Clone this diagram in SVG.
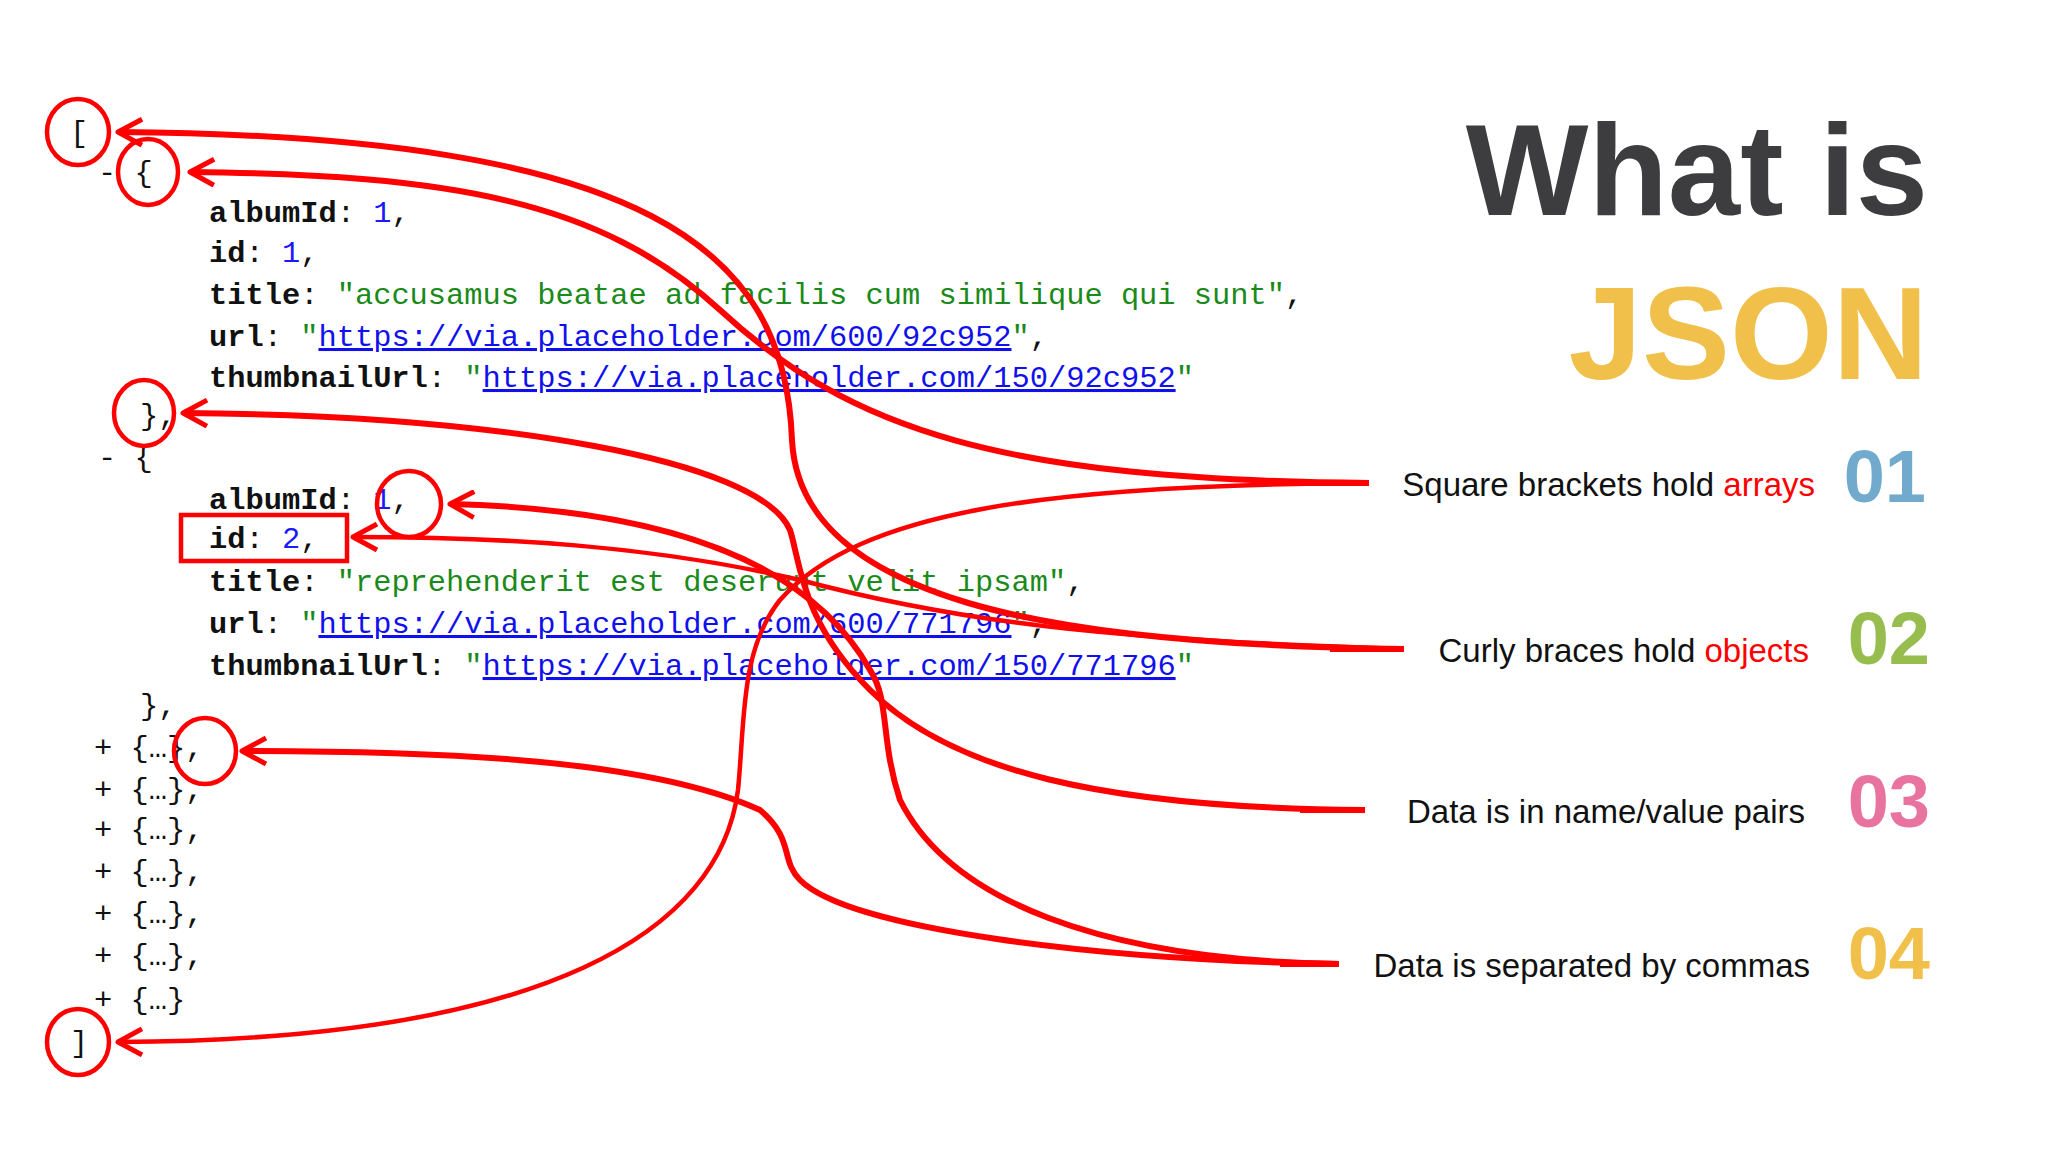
<svg xmlns="http://www.w3.org/2000/svg" width="2048" height="1152" viewBox="0 0 2048 1152">
<defs>
<marker id="ah" viewBox="0 0 30 30" refX="27" refY="15" markerWidth="30" markerHeight="30" orient="auto" markerUnits="userSpaceOnUse">
<path d="M3,2 L27,15 L3,28" fill="none" stroke="#f00" stroke-width="5" stroke-linejoin="round"/>
</marker>
<style>
.c{font-family:"Liberation Mono",monospace;font-size:30.4px;fill:#111}
.k{font-weight:bold}
.n{fill:#1a1aff}
.s{fill:#1a8a1a}
.u{fill:#1010ee;text-decoration:underline}
.ring{fill:none;stroke:#f00;stroke-width:4.5}
.ln{fill:none;stroke:#f00;stroke-width:6;marker-end:url(#ah)}
.thin{stroke-width:4.5}
.lab{font-family:"Liberation Sans",Arial,sans-serif;font-size:33px;fill:#111;text-anchor:end}
.num{font-family:"Liberation Sans",Arial,sans-serif;font-size:74px;font-weight:bold;text-anchor:end}
</style>
</defs>
<rect width="2048" height="1152" fill="#fff"/>
<g id="code" class="c">
<text x="70" y="142">[</text>
<text x="98" y="182">- {</text>
<text x="209" y="222"><tspan class="k">albumId</tspan>: <tspan class="n">1</tspan>,</text>
<text x="209" y="262"><tspan class="k">id</tspan>: <tspan class="n">1</tspan>,</text>
<text x="209" y="304"><tspan class="k">title</tspan>: <tspan class="s">"accusamus beatae ad facilis cum similique qui sunt"</tspan>,</text>
<text x="209" y="346"><tspan class="k">url</tspan>: <tspan class="s">"</tspan><tspan class="u">https://via.placeholder.com/600/92c952</tspan><tspan class="s">"</tspan>,</text>
<text x="209" y="387"><tspan class="k">thumbnailUrl</tspan>: <tspan class="s">"</tspan><tspan class="u">https://via.placeholder.com/150/92c952</tspan><tspan class="s">"</tspan></text>
<text x="140" y="425">},</text>
<text x="98" y="467">- {</text>
<text x="209" y="509"><tspan class="k">albumId</tspan>: <tspan class="n">1</tspan>,</text>
<text x="209" y="548"><tspan class="k">id</tspan>: <tspan class="n">2</tspan>,</text>
<text x="209" y="591"><tspan class="k">title</tspan>: <tspan class="s">"reprehenderit est deserunt velit ipsam"</tspan>,</text>
<text x="209" y="633"><tspan class="k">url</tspan>: <tspan class="s">"</tspan><tspan class="u">https://via.placeholder.com/600/771796</tspan><tspan class="s">"</tspan>,</text>
<text x="209" y="675"><tspan class="k">thumbnailUrl</tspan>: <tspan class="s">"</tspan><tspan class="u">https://via.placeholder.com/150/771796</tspan><tspan class="s">"</tspan></text>
<text x="140" y="715">},</text>
<text x="94" y="757">+ {…},</text>
<text x="94" y="799">+ {…},</text>
<text x="94" y="839">+ {…},</text>
<text x="94" y="881">+ {…},</text>
<text x="94" y="923">+ {…},</text>
<text x="94" y="965">+ {…},</text>
<text x="94" y="1009">+ {…}</text>
<text x="70" y="1052">]</text>
</g>
<g id="marks">
<ellipse class="ring" cx="78" cy="132" rx="31" ry="33"/>
<ellipse class="ring" cx="148" cy="172" rx="30" ry="33"/>
<ellipse class="ring" cx="144" cy="413" rx="30" ry="33"/>
<ellipse class="ring" cx="409" cy="504" rx="32" ry="33"/>
<ellipse class="ring" cx="205" cy="751" rx="31" ry="33"/>
<ellipse class="ring" cx="78" cy="1042" rx="31" ry="33"/>
<rect class="ring" x="181" y="515" width="166" height="46"/>
</g>
<g id="connectors">
<path class="ln" d="M1404,649 C1050,645 800,600 792,440 C785,250 650,136 118,132"/>
<path class="ln" d="M1369,483 C1000,480 850,430 720,310 C600,200 450,175 190,172"/>
<path class="ln thin" d="M1369,483 C1050,485 860,510 780,600 C740,650 745,720 738,790 C720,930 550,1040 118,1042"/>
<path class="ln" d="M1365,810 C1100,808 950,770 870,690 C800,620 800,560 790,530 C760,460 500,415 183,413"/>
<path class="ln" d="M1339,964 C1100,960 950,900 900,800 C880,740 890,700 870,670 C820,580 700,510 450,504"/>
<path class="ln thin" d="M1404,649 C1100,640 950,620 800,580 C650,545 500,537 353,537"/>
<path class="ln" d="M1339,964 C1100,960 850,930 800,880 C780,860 795,840 760,810 C650,760 450,751 242,751"/>
<path d="M1300,483 L1369,483 M1330,649 L1404,649 M1300,810 L1365,810 M1280,964 L1339,964" stroke="#f00" stroke-width="6"/>
</g>
<g id="title" font-family="Liberation Sans,Arial,sans-serif" font-weight="bold" text-anchor="end">
<text x="1928" y="215" font-size="130" fill="#3d3d3f">What is</text>
<text x="1928" y="379" font-size="132" fill="#f0c04a">JSON</text>
</g>
<g id="item1"><text class="lab" x="1815" y="496">Square brackets hold <tspan fill="#f00">arrays</tspan></text><text class="num" x="1926" y="502" fill="#72aace">01</text></g>
<g id="item2"><text class="lab" x="1809" y="662">Curly braces hold <tspan fill="#f00">objects</tspan></text><text class="num" x="1930" y="664" fill="#97bd4e">02</text></g>
<g id="item3"><text class="lab" x="1805" y="823">Data is in name/value pairs</text><text class="num" x="1930" y="827" fill="#e9739f">03</text></g>
<g id="item4"><text class="lab" x="1810" y="977">Data is separated by commas</text><text class="num" x="1930" y="979" fill="#f0c04a">04</text></g>
</svg>
